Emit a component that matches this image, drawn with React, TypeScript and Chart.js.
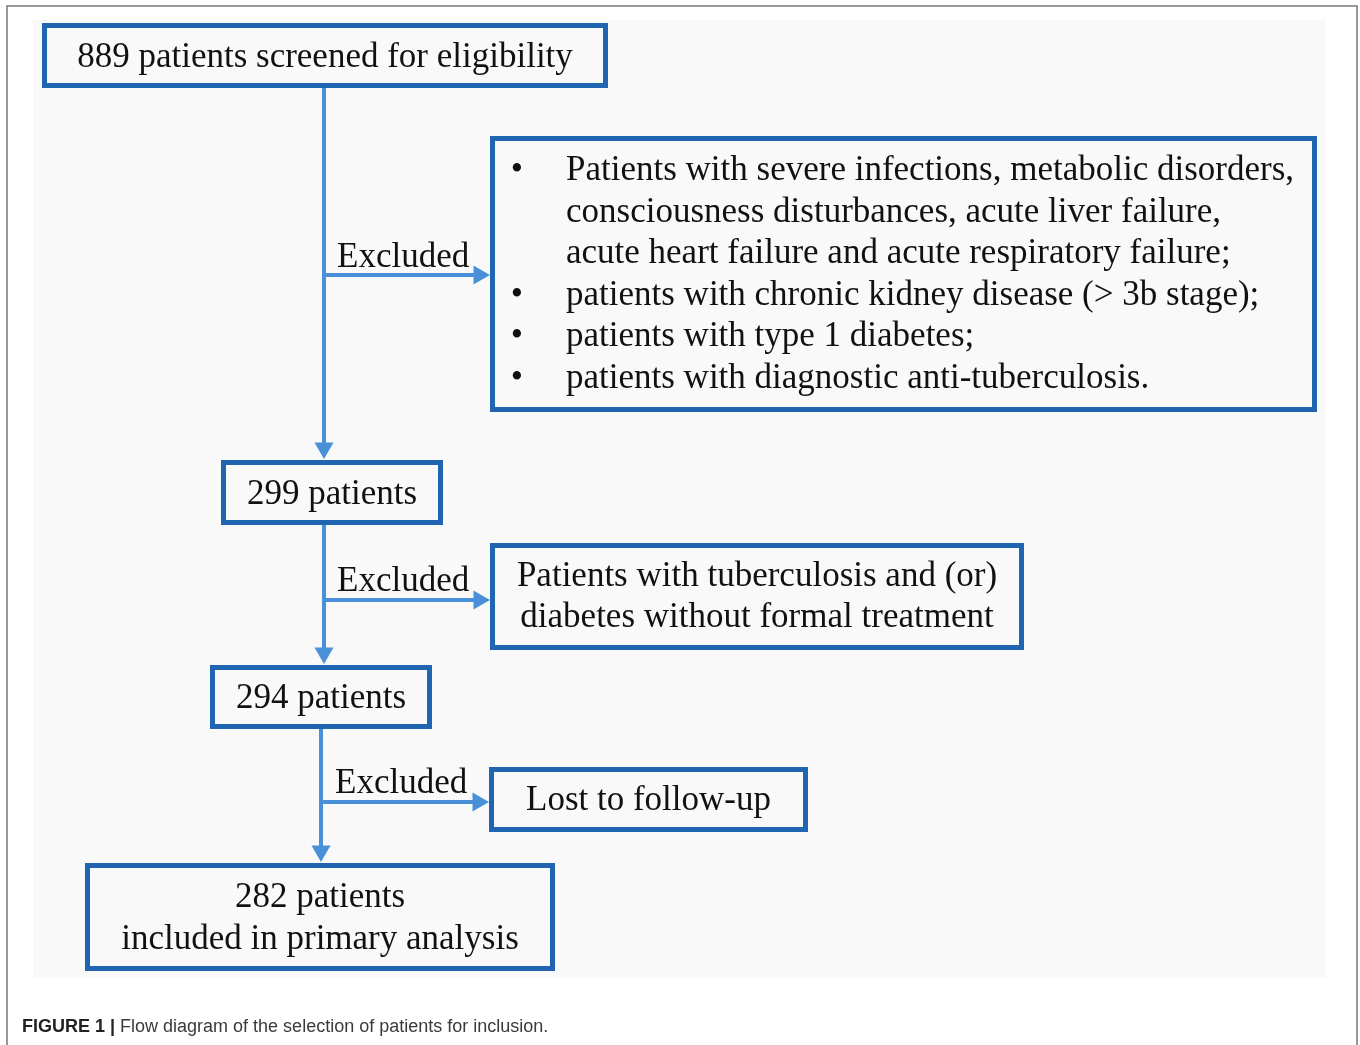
import React, { useEffect, useRef } from "react";
import { Chart, registerables } from "chart.js";

Chart.register(...registerables);

// ---------------- data ----------------
const stageCounts = [889, 299, 294, 282];
const stageSuffixes = [
  [" patients screened for eligibility"],
  [" patients"],
  [" patients"],
  [" patients", "included in primary analysis"],
];
const exclusionLabel = "Excluded";
const exclusionBullets = [true, false, false];
const exclusionReasons = [
  [
    ["Patients with severe infections, metabolic disorders,", "consciousness disturbances, acute liver failure,", "acute heart failure and acute respiratory failure;"],
    ["patients with chronic kidney disease (> 3b stage);"],
    ["patients with type 1 diabetes;"],
    ["patients with diagnostic anti-tuberculosis."],
  ],
  [["Patients with tuberculosis and (or)", "diabetes without formal treatment"]],
  [["Lost to follow-up"]],
];
const captionBold = "FIGURE 1 |";
const captionText = " Flow diagram of the selection of patients for inclusion.";

// ---------------- layout (data units on a 1360 x 1045 frame) ----------------
const stageBoxes = [
  [42, 23, 608, 88],
  [221, 460, 443, 525],
  [210, 665, 432, 729],
  [85, 863, 555, 971],
];
const exclusionBoxes = [
  [490, 136, 1317, 412],
  [490, 543, 1024, 650],
  [489, 767, 808, 832],
];
const trunkX = [324, 324, 321];
const branchY = [275, 600, 802];
const labelX = [337, 337, 335];
const labelBaseline = [267, 591, 793];

const W = 1360;
const H = 1045;
const BOX_COLOR = "#1f65b1";
const ARROW_COLOR = "#4a90d9";
const BG_COLOR = "#f9f9f9";
const SERIF = "'Liberation Serif', 'Times New Roman', serif";
const SANS = "'Liberation Sans', Arial, Helvetica, sans-serif";
const FONT_SIZE = 35;
const LINE_GAP = 41.5;
const ARROW_R = 11;

function stageLines(i: number): string[] {
  const s = stageSuffixes[i];
  return [String(stageCounts[i]) + s[0], ...s.slice(1)];
}

const flowPlugin = {
  id: "flowDiagram",
  beforeDraw(chart: any) {
    const { ctx, scales } = chart;
    const xs = scales.x;
    const ys = scales.y;
    const px = (v: number) => xs.getPixelForValue(v);
    const py = (v: number) => ys.getPixelForValue(v);
    ctx.save();
    ctx.fillStyle = "#ffffff";
    ctx.fillRect(px(0), py(0), px(W) - px(0), py(H) - py(0));
    // figure frame
    ctx.strokeStyle = "#777777";
    ctx.lineWidth = 1.5;
    ctx.beginPath();
    ctx.moveTo(px(7), py(H + 5));
    ctx.lineTo(px(7), py(6));
    ctx.lineTo(px(1357), py(6));
    ctx.lineTo(px(1357), py(H + 5));
    ctx.stroke();
    // diagram background
    ctx.fillStyle = BG_COLOR;
    ctx.fillRect(px(33), py(20), px(1326) - px(33), py(978) - py(20));
    ctx.restore();
  },
  afterDatasetsDraw(chart: any) {
    const { ctx, scales } = chart;
    const xs = scales.x;
    const ys = scales.y;
    const px = (v: number) => xs.getPixelForValue(v);
    const py = (v: number) => ys.getPixelForValue(v);
    const drawBox = (b: number[]) => {
      const x1 = px(b[0]), y1 = py(b[1]), x2 = px(b[2]), y2 = py(b[3]);
      ctx.fillStyle = BG_COLOR;
      ctx.fillRect(x1, y1, x2 - x1, y2 - y1);
      ctx.strokeStyle = BOX_COLOR;
      ctx.lineWidth = 5;
      ctx.lineJoin = "miter";
      ctx.strokeRect(x1 + 2.5, y1 + 2.5, x2 - x1 - 5, y2 - y1 - 5);
    };
    ctx.save();
    ctx.font = `${FONT_SIZE}px ${SERIF}`;
    ctx.fillStyle = "#111111";
    ctx.textBaseline = "alphabetic";

    // stage boxes
    stageBoxes.forEach((b, i) => {
      drawBox(b);
      const lines = stageLines(i);
      const cx = (b[0] + b[2]) / 2;
      const cy = (b[1] + b[3]) / 2 + 11;
      ctx.fillStyle = "#111111";
      ctx.textAlign = "center";
      lines.forEach((t, k) => {
        ctx.fillText(t, px(cx), py(cy + (k - (lines.length - 1) / 2) * LINE_GAP));
      });
    });

    // exclusion boxes
    exclusionBoxes.forEach((b, i) => {
      drawBox(b);
      ctx.fillStyle = "#111111";
      const groups = exclusionReasons[i];
      const all: { t: string; bullet: boolean }[] = [];
      groups.forEach((g) => g.forEach((t, k) => all.push({ t, bullet: k === 0 })));
      const cy = (b[1] + b[3]) / 2 + 10;
      all.forEach((ln, k) => {
        const y = cy + (k - (all.length - 1) / 2) * LINE_GAP;
        if (exclusionBullets[i]) {
          if (ln.bullet) {
            ctx.textAlign = "center";
            ctx.fillText("\u2022", px(b[0] + 27), py(y));
          }
          ctx.textAlign = "left";
          ctx.fillText(ln.t, px(b[0] + 76), py(y));
        } else {
          ctx.textAlign = "center";
          ctx.fillText(ln.t, px((b[0] + b[2]) / 2), py(y));
        }
      });
    });

    // "Excluded" labels
    ctx.textAlign = "left";
    labelX.forEach((x, i) => {
      ctx.fillText(exclusionLabel, px(x), py(labelBaseline[i]));
    });

    // caption
    const capY = 1032;
    ctx.font = `bold 18px ${SANS}`;
    ctx.fillStyle = "#222222";
    ctx.textAlign = "left";
    ctx.fillText(captionBold, px(22), py(capY));
    const bw = ctx.measureText(captionBold).width;
    ctx.font = `18px ${SANS}`;
    ctx.fillStyle = "#3a3a3a";
    ctx.fillText(captionText, px(22) + bw, py(capY));
    ctx.restore();
  },
};

function buildDatasets() {
  const sets: any[] = [];
  trunkX.forEach((x, i) => {
    const top = stageBoxes[i][3];
    const bottom = stageBoxes[i + 1][1] - 1 - ARROW_R;
    // vertical trunk segment between stage boxes
    sets.push({
      type: "line",
      data: [
        { x, y: top },
        { x, y: bottom },
      ],
      borderColor: ARROW_COLOR,
      borderWidth: 4,
      pointRadius: 0,
      borderCapStyle: "butt",
    });
    // horizontal branch to exclusion box
    sets.push({
      type: "line",
      data: [
        { x: x - 2, y: branchY[i] },
        { x: exclusionBoxes[i][0] - ARROW_R, y: branchY[i] },
      ],
      borderColor: ARROW_COLOR,
      borderWidth: 4,
      pointRadius: 0,
      borderCapStyle: "butt",
    });
  });
  // arrowheads
  const heads: any[] = [];
  const rot: number[] = [];
  trunkX.forEach((x, i) => {
    heads.push({ x, y: stageBoxes[i + 1][1] - 1 - ARROW_R });
    rot.push(180);
    heads.push({ x: exclusionBoxes[i][0] - ARROW_R, y: branchY[i] });
    rot.push(90);
  });
  sets.push({
    type: "scatter",
    data: heads,
    pointStyle: "triangle",
    pointRadius: ARROW_R,
    rotation: rot,
    backgroundColor: ARROW_COLOR,
    borderColor: ARROW_COLOR,
    borderWidth: 0,
  });
  return sets;
}

export default function App() {
  const ref = useRef<HTMLCanvasElement | null>(null);
  useEffect(() => {
    if (!ref.current) return;
    const chart = new Chart(ref.current, {
      type: "scatter",
      data: { datasets: buildDatasets() },
      options: {
        animation: false,
        responsive: false,
        events: [],
        layout: { padding: 0, autoPadding: false },
        plugins: { legend: { display: false }, tooltip: { enabled: false }, title: { display: false } },
        scales: {
          x: { type: "linear", min: 0, max: W, display: false },
          y: { type: "linear", min: 0, max: H, reverse: true, display: false },
        },
      },
      plugins: [flowPlugin],
    } as any);
    return () => chart.destroy();
  }, []);
  return (
    <div style={{ position: "fixed", left: 0, top: 0, width: W, height: H, background: "#fff" }}>
      <canvas ref={ref} width={W} height={H} style={{ display: "block", width: W, height: H }} />
    </div>
  );
}
